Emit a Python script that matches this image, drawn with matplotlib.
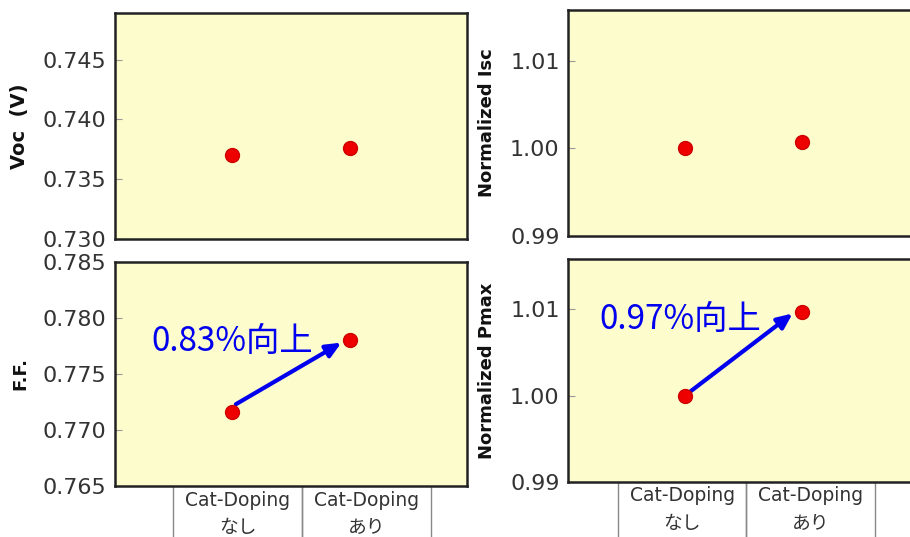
import matplotlib
matplotlib.use("Agg")
import matplotlib.pyplot as plt

plt.rcParams['font.family'] = ['DejaVu Sans', 'Noto Sans CJK JP']

# data
categories = ["Cat-Doping\nなし", "Cat-Doping\nあり"]
x_pos = [1, 2]
voc = [0.7370, 0.7376]
isc = [1.0000, 1.0007]
ff = [0.7716, 0.7780]
pmax = [1.0000, 1.0097]

voc_ticks = [0.730, 0.735, 0.740, 0.745]
isc_ticks = [0.99, 1.00, 1.01]
ff_ticks = [0.765, 0.770, 0.775, 0.780, 0.785]
pmax_ticks = [0.99, 1.00, 1.01]

ff_note = "0.83%向上"
pmax_note = "0.97%向上"

face = "#fdfccc"
W, H = 910, 537
fig = plt.figure(figsize=(W / 100, H / 100), dpi=100)


def px_axes(x0, y0, x1, y1):
    return fig.add_axes([x0 / W, 1 - y1 / H, (x1 - x0) / W, (y1 - y0) / H])


def style(ax, ticks, fmt, ylim, label, size):
    ax.set_facecolor(face)
    ax.set_xlim(0, 3)
    ax.set_ylim(*ylim)
    ax.set_yticks(ticks)
    ax.set_yticklabels([fmt.format(t) for t in ticks], fontsize=16, color="#333333")
    ax.set_xticks([])
    ax.tick_params(axis="y", direction="in", length=5, width=0.8, color="#999999", pad=6)
    for s in ax.spines.values():
        s.set_linewidth(1.8)
        s.set_color("#222222")
    ax.set_ylabel(label, fontsize=size, fontweight="bold", labelpad=10, color="#111111")


def dots(ax, vals):
    ax.plot(x_pos, vals, "o", color="#ee0000", markersize=10,
            markeredgecolor="#cc0000", linestyle="none", zorder=5)


def cat_table(ax, x0):
    tb = ax.table(cellText=[categories], cellLoc="center",
                  bbox=[x0, -0.25, 0.733, 0.25], edges="LRB")
    tb.auto_set_font_size(False)
    for cell in tb.get_celld().values():
        cell.set_edgecolor("#888888")
        cell.set_linewidth(1.0)
        t = cell.get_text()
        t.set_fontsize(13.5)
        t.set_color("#333333")
        t.set_linespacing(1.6)


ax1 = px_axes(115, 13, 467, 239)
style(ax1, voc_ticks, "{:.3f}", (0.730, 0.7489), "Voc  (V)", 14)
dots(ax1, voc)

ax2 = px_axes(568, 10, 919, 236)
style(ax2, isc_ticks, "{:.2f}", (0.99, 1.0158), "Normalized Isc", 13)
dots(ax2, isc)

ax3 = px_axes(115, 262, 467, 486)
style(ax3, ff_ticks, "{:.3f}", (0.765, 0.785), "F.F.", 13)
dots(ax3, ff)
ax3.annotate("", xy=(1.93, ff[1] - 0.0002), xytext=(1.03, 0.7723),
             arrowprops=dict(arrowstyle="-|>,head_length=0.9,head_width=0.4",
                             color="#0000ee", lw=3, shrinkA=0, shrinkB=0))
ax3.text(0.31, 0.7779, ff_note, fontsize=24, color="#0000ee",
         family=["Noto Sans CJK JP"], ha="left", va="center")
cat_table(ax3, 0.165)

ax4 = px_axes(568, 259, 919, 482)
style(ax4, pmax_ticks, "{:.2f}", (0.99, 1.0158), "Normalized Pmax", 13)
dots(ax4, pmax)
ax4.annotate("", xy=(1.92, pmax[1] - 0.0002), xytext=(1.0, 1.0),
             arrowprops=dict(arrowstyle="-|>,head_length=0.9,head_width=0.4",
                             color="#0000ee", lw=3, shrinkA=0, shrinkB=0))
ax4.text(0.27, 1.0088, pmax_note, fontsize=24, color="#0000ee",
         family=["Noto Sans CJK JP"], ha="left", va="center")
cat_table(ax4, 0.142)

fig.savefig("out.png", dpi=100, facecolor="white")
